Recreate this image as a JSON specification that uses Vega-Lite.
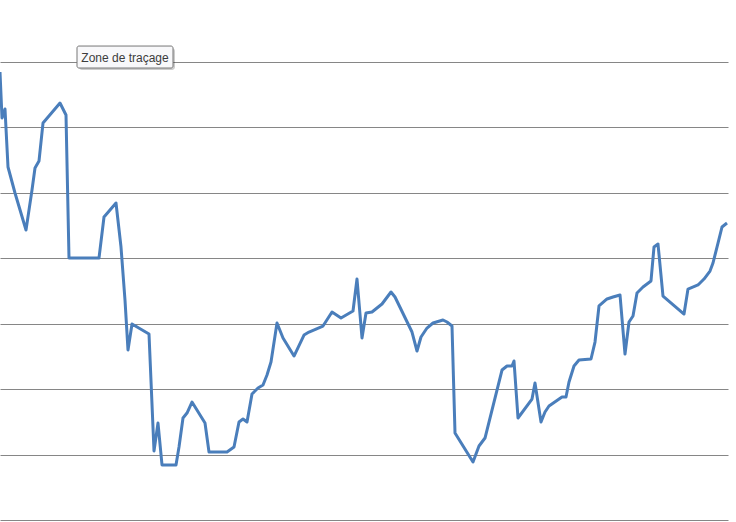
{
  "$schema": "https://vega.github.io/schema/vega-lite/v6.json",
  "width": 728,
  "height": 458,
  "autosize": {"type": "none"},
  "padding": {"top": 62, "left": 0, "right": 8, "bottom": 2},
  "background": "white",
  "config": {"view": {"stroke": null}},
  "datasets": {
    "series": [
      {"x": 0, "v": 68.47}, {"x": 2, "v": 61.44}, {"x": 5, "v": 62.81}, {"x": 8, "v": 53.95},
      {"x": 15, "v": 49.98}, {"x": 26, "v": 44.32}, {"x": 32, "v": 50.43}, {"x": 35, "v": 53.8},
      {"x": 39, "v": 54.87}, {"x": 43, "v": 60.67}, {"x": 60, "v": 63.73}, {"x": 66, "v": 61.9},
      {"x": 69, "v": 40.04}, {"x": 99, "v": 40.04}, {"x": 104, "v": 46.31}, {"x": 116, "v": 48.45},
      {"x": 121, "v": 41.72}, {"x": 125, "v": 33.62}, {"x": 128, "v": 25.98}, {"x": 132, "v": 29.95},
      {"x": 149, "v": 28.43}, {"x": 154, "v": 10.55}, {"x": 158, "v": 14.82}, {"x": 162, "v": 8.41},
      {"x": 176, "v": 8.41}, {"x": 179, "v": 11.16}, {"x": 183, "v": 15.59}, {"x": 187, "v": 16.35},
      {"x": 192, "v": 18.03}, {"x": 205, "v": 14.82}, {"x": 209, "v": 10.39}, {"x": 227, "v": 10.39},
      {"x": 234, "v": 11.16}, {"x": 239, "v": 14.98}, {"x": 243, "v": 15.44}, {"x": 247, "v": 14.98},
      {"x": 252, "v": 19.26}, {"x": 258, "v": 20.17}, {"x": 263, "v": 20.63}, {"x": 267, "v": 22.16},
      {"x": 271, "v": 24.15}, {"x": 277, "v": 30.11}, {"x": 283, "v": 27.82}, {"x": 294, "v": 25.06},
      {"x": 304, "v": 28.27}, {"x": 309, "v": 28.73}, {"x": 323, "v": 29.65}, {"x": 332, "v": 31.79},
      {"x": 341, "v": 30.87}, {"x": 353, "v": 31.94}, {"x": 357, "v": 36.83}, {"x": 362, "v": 27.82},
      {"x": 366, "v": 31.64}, {"x": 372, "v": 31.79}, {"x": 382, "v": 33.01}, {"x": 391, "v": 34.85},
      {"x": 395, "v": 34.08}, {"x": 412, "v": 28.73}, {"x": 417, "v": 25.83}, {"x": 421, "v": 27.97},
      {"x": 427, "v": 29.34}, {"x": 433, "v": 30.11}, {"x": 443, "v": 30.57}, {"x": 447, "v": 30.26},
      {"x": 452, "v": 29.65}, {"x": 455, "v": 13.3}, {"x": 473, "v": 8.86}, {"x": 479, "v": 11.31},
      {"x": 485, "v": 12.53}, {"x": 502, "v": 22.92}, {"x": 507, "v": 23.54}, {"x": 512, "v": 23.54},
      {"x": 514, "v": 24.3}, {"x": 518, "v": 15.59}, {"x": 532, "v": 18.49}, {"x": 535, "v": 20.94},
      {"x": 541, "v": 14.98}, {"x": 545, "v": 16.51}, {"x": 549, "v": 17.42}, {"x": 562, "v": 18.8},
      {"x": 566, "v": 18.8}, {"x": 569, "v": 21.09}, {"x": 574, "v": 23.54}, {"x": 579, "v": 24.45},
      {"x": 591, "v": 24.61}, {"x": 595, "v": 27.2}, {"x": 599, "v": 32.71}, {"x": 607, "v": 33.78},
      {"x": 613, "v": 34.08}, {"x": 620, "v": 34.39}, {"x": 625, "v": 25.37}, {"x": 629, "v": 30.26},
      {"x": 633, "v": 31.18}, {"x": 637, "v": 34.69}, {"x": 643, "v": 35.61}, {"x": 651, "v": 36.53},
      {"x": 654, "v": 41.72}, {"x": 658, "v": 42.18}, {"x": 663, "v": 34.23}, {"x": 684, "v": 31.48},
      {"x": 688, "v": 35.3}, {"x": 698, "v": 35.92}, {"x": 704, "v": 36.83}, {"x": 710, "v": 38.05},
      {"x": 713, "v": 39.28}, {"x": 718, "v": 42.33}, {"x": 722, "v": 44.78}, {"x": 727, "v": 45.39}
    ],
    "tip": [
      {"x1": 77, "x2": 173, "y1": 69.08, "y2": 72.44, "xs1": 79, "xs2": 175, "ys1": 68.78, "ys2": 72.14, "xc": 125, "yc": 70.68, "label": "Zone de traçage"}
    ]
  },
  "layer": [
    {
      "data": {"name": "series"},
      "mark": {"type": "line", "color": "#4a7ebb", "strokeWidth": 3, "strokeJoin": "round", "clip": false},
      "encoding": {
        "x": {"field": "x", "type": "quantitative", "scale": {"domain": [0, 728], "nice": false, "zero": false}, "axis": null},
        "y": {"field": "v", "type": "quantitative", "scale": {"domain": [0, 70], "nice": false},
          "axis": {"values": [0, 10, 20, 30, 40, 50, 60, 70], "grid": true, "gridColor": "#868686", "gridWidth": 1, "labels": false, "ticks": false, "domain": false, "title": null}}
      }
    },
    {
      "data": {"name": "tip"},
      "mark": {"type": "rect", "color": "#000000", "opacity": 0.2, "cornerRadius": 3},
      "encoding": {
        "x": {"field": "xs1", "type": "quantitative"},
        "x2": {"field": "xs2"},
        "y": {"field": "ys1", "type": "quantitative"},
        "y2": {"field": "ys2"}
      }
    },
    {
      "data": {"name": "tip"},
      "mark": {"type": "rect", "fill": "#f8f8fa", "stroke": "#767676", "strokeWidth": 1, "cornerRadius": 2},
      "encoding": {
        "x": {"field": "x1", "type": "quantitative"},
        "x2": {"field": "x2"},
        "y": {"field": "y1", "type": "quantitative"},
        "y2": {"field": "y2"}
      }
    },
    {
      "data": {"name": "tip"},
      "mark": {"type": "text", "font": "Liberation Sans", "fontSize": 12, "color": "#3c3c3c", "align": "center", "baseline": "middle"},
      "encoding": {
        "x": {"field": "xc", "type": "quantitative"},
        "y": {"field": "yc", "type": "quantitative"},
        "text": {"field": "label"}
      }
    }
  ]
}
